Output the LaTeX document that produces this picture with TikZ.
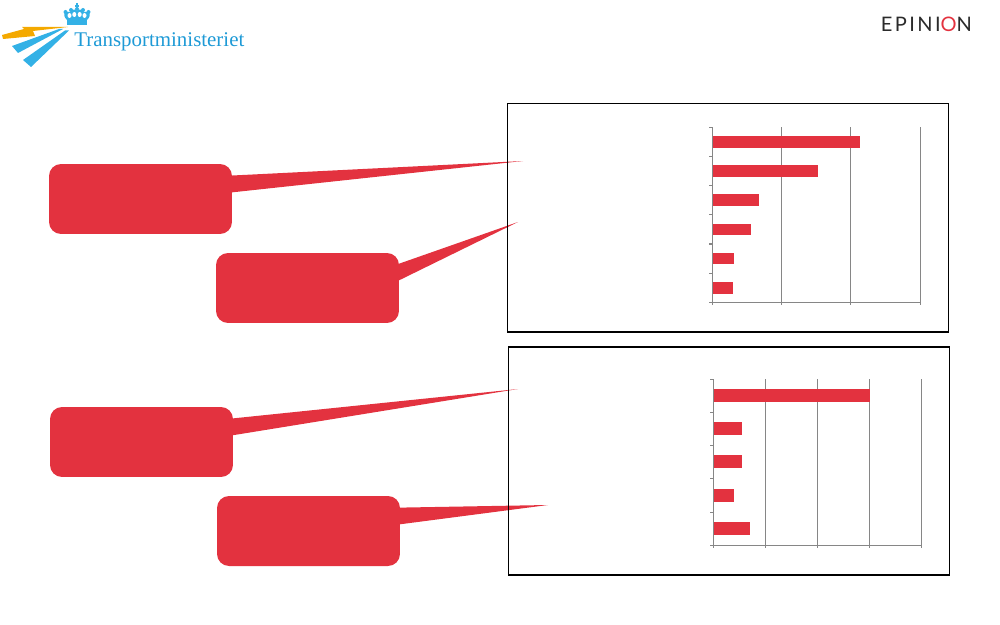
\documentclass[tikz,border=0pt]{standalone}
\usepackage{fontspec}
\setmainfont{Liberation Serif}
\newfontfamily\epfont[LetterSpace=12]{Lato}
\usetikzlibrary{calc}
\definecolor{barred}{HTML}{E3323F}
\definecolor{gridgray}{HTML}{868686}
\definecolor{tmblue}{HTML}{1E9AD6}
\definecolor{tmsky}{HTML}{33B1E6}
\definecolor{tmyellow}{HTML}{F4A900}
\definecolor{epgray}{HTML}{2B2B2B}
\begin{document}
\begin{tikzpicture}[x=0.02cm,y=-0.02cm,
  callout/.style={fill=barred, rounded corners=0.24cm, minimum width=3.66cm, minimum height=1.4cm, inner sep=0pt},
  tail/.style={fill=barred},
  frame/.style={draw=black, line width=0.7pt},
  gridln/.style={draw=gridgray, line width=0.6pt},
  bar/.style={fill=barred}]
\useasboundingbox (0,0) rectangle (1000,625);

% ---------- logo Transportministeriet ----------
\fill[tmyellow] (2,35) -- (24,29) -- (22,27) -- (68,27) -- (33,31) -- (35,36) -- (3,39) -- cycle;
\fill[tmsky] (12,46) -- (59,29) -- (63,29) -- (18,53) -- cycle;
\fill[tmsky] (23,60) -- (65,30.5) -- (69,30.5) -- (31,67) -- cycle;
% crown
\fill[tmsky] (67,20) rectangle (87,25);
\fill[tmsky] (67,20) .. controls (62,15) and (64,10) .. (70,12)
  .. controls (72,9) and (76,9) .. (77,11)
  .. controls (78,9) and (82,9) .. (84,12)
  .. controls (90,10) and (92,15) .. (87,20) -- cycle;
\foreach \hx/\hy in {69.5/15.5,74.3/14.5,79.7/14.5,84.5/15.5}
  \fill[white] (\hx,\hy) ellipse[x radius=0.04cm, y radius=0.05cm];
\foreach \cx/\cy in {65.5/12,71/10,77/9,83/10,88.5/12}
  \fill[tmsky] (\cx,\cy) circle[radius=0.04cm];
\draw[tmsky, line width=1pt] (77,3.5) -- (77,9) (75,6) -- (79,6);
\node[anchor=base west, inner sep=0pt, text=tmblue, font=\fontsize{11.9}{12}\selectfont] (tm) at (74,47) {Transportministeriet};

% ---------- logo Epinion ----------
\node[anchor=base west, inner sep=0pt, text=epgray, font=\epfont\fontsize{11.4}{12}\selectfont] (ep) at (880.5,31.7) {EPINI\textcolor{barred}{O}N};

% ---------- callouts ----------
\node[callout] (b1) at (140.5,199) {};
\node[callout] (b2) at (307.5,288) {};
\node[callout] (b3) at (141.5,442) {};
\node[callout] (b4) at (308.5,531) {};
\coordinate (t1) at (523,161);
\coordinate (t2) at (518,222);
\coordinate (t3) at (518,389);
\coordinate (t4) at (548,505);
\foreach \b/\t in {b1/t1,b2/t2,b3/t3,b4/t4}
  \fill[tail] ($(\b.north east)+(-3,12)$) -- (\t) -- ($(\b.north east)+(-3,29)$) -- cycle;

% ---------- frames ----------
\draw[frame] (507.5,103.5) rectangle (948.5,332);
\draw[frame] (508.5,347) rectangle (949.5,575);

% ---------- chart 1 ----------
\foreach \x in {781.6,850.9,920.2}
  \draw[gridln] (\x,127.3) -- (\x,302.3);
\draw[gridln] (712.3,127.3) -- (712.3,302.3) -- (920.2,302.3);
\foreach \i in {0,...,6}
  \draw[gridln] (709,{127.3+\i*29.17}) -- (712.3,{127.3+\i*29.17});
\foreach \x in {712.3,781.6,850.9,920.2}
  \draw[gridln] (\x,302.3) -- (\x,305.3);
\foreach \e [count=\i from 0] in {860.3,818.3,758.7,751.3,734,733.3}
  \fill[bar] (713,{127.3+\i*29.17+8.7}) rectangle (\e,{127.3+\i*29.17+20.4});

% ---------- chart 2 ----------
\foreach \x in {765.3,817.3,869.3,921.3}
  \draw[gridln] (\x,379.3) -- (\x,545.3);
\draw[gridln] (713.3,379.3) -- (713.3,545.3) -- (921.3,545.3);
\foreach \i in {0,...,5}
  \draw[gridln] (710,{379.3+\i*33.2}) -- (713.3,{379.3+\i*33.2});
\foreach \x in {713.3,765.3,817.3,869.3,921.3}
  \draw[gridln] (\x,545.3) -- (\x,548.3);
\foreach \e [count=\i from 0] in {870.3,742.3,742.3,734.3,750}
  \fill[bar] (714,{379.3+\i*33.2+9.7}) rectangle (\e,{379.3+\i*33.2+22.7});
\end{tikzpicture}
\end{document}
